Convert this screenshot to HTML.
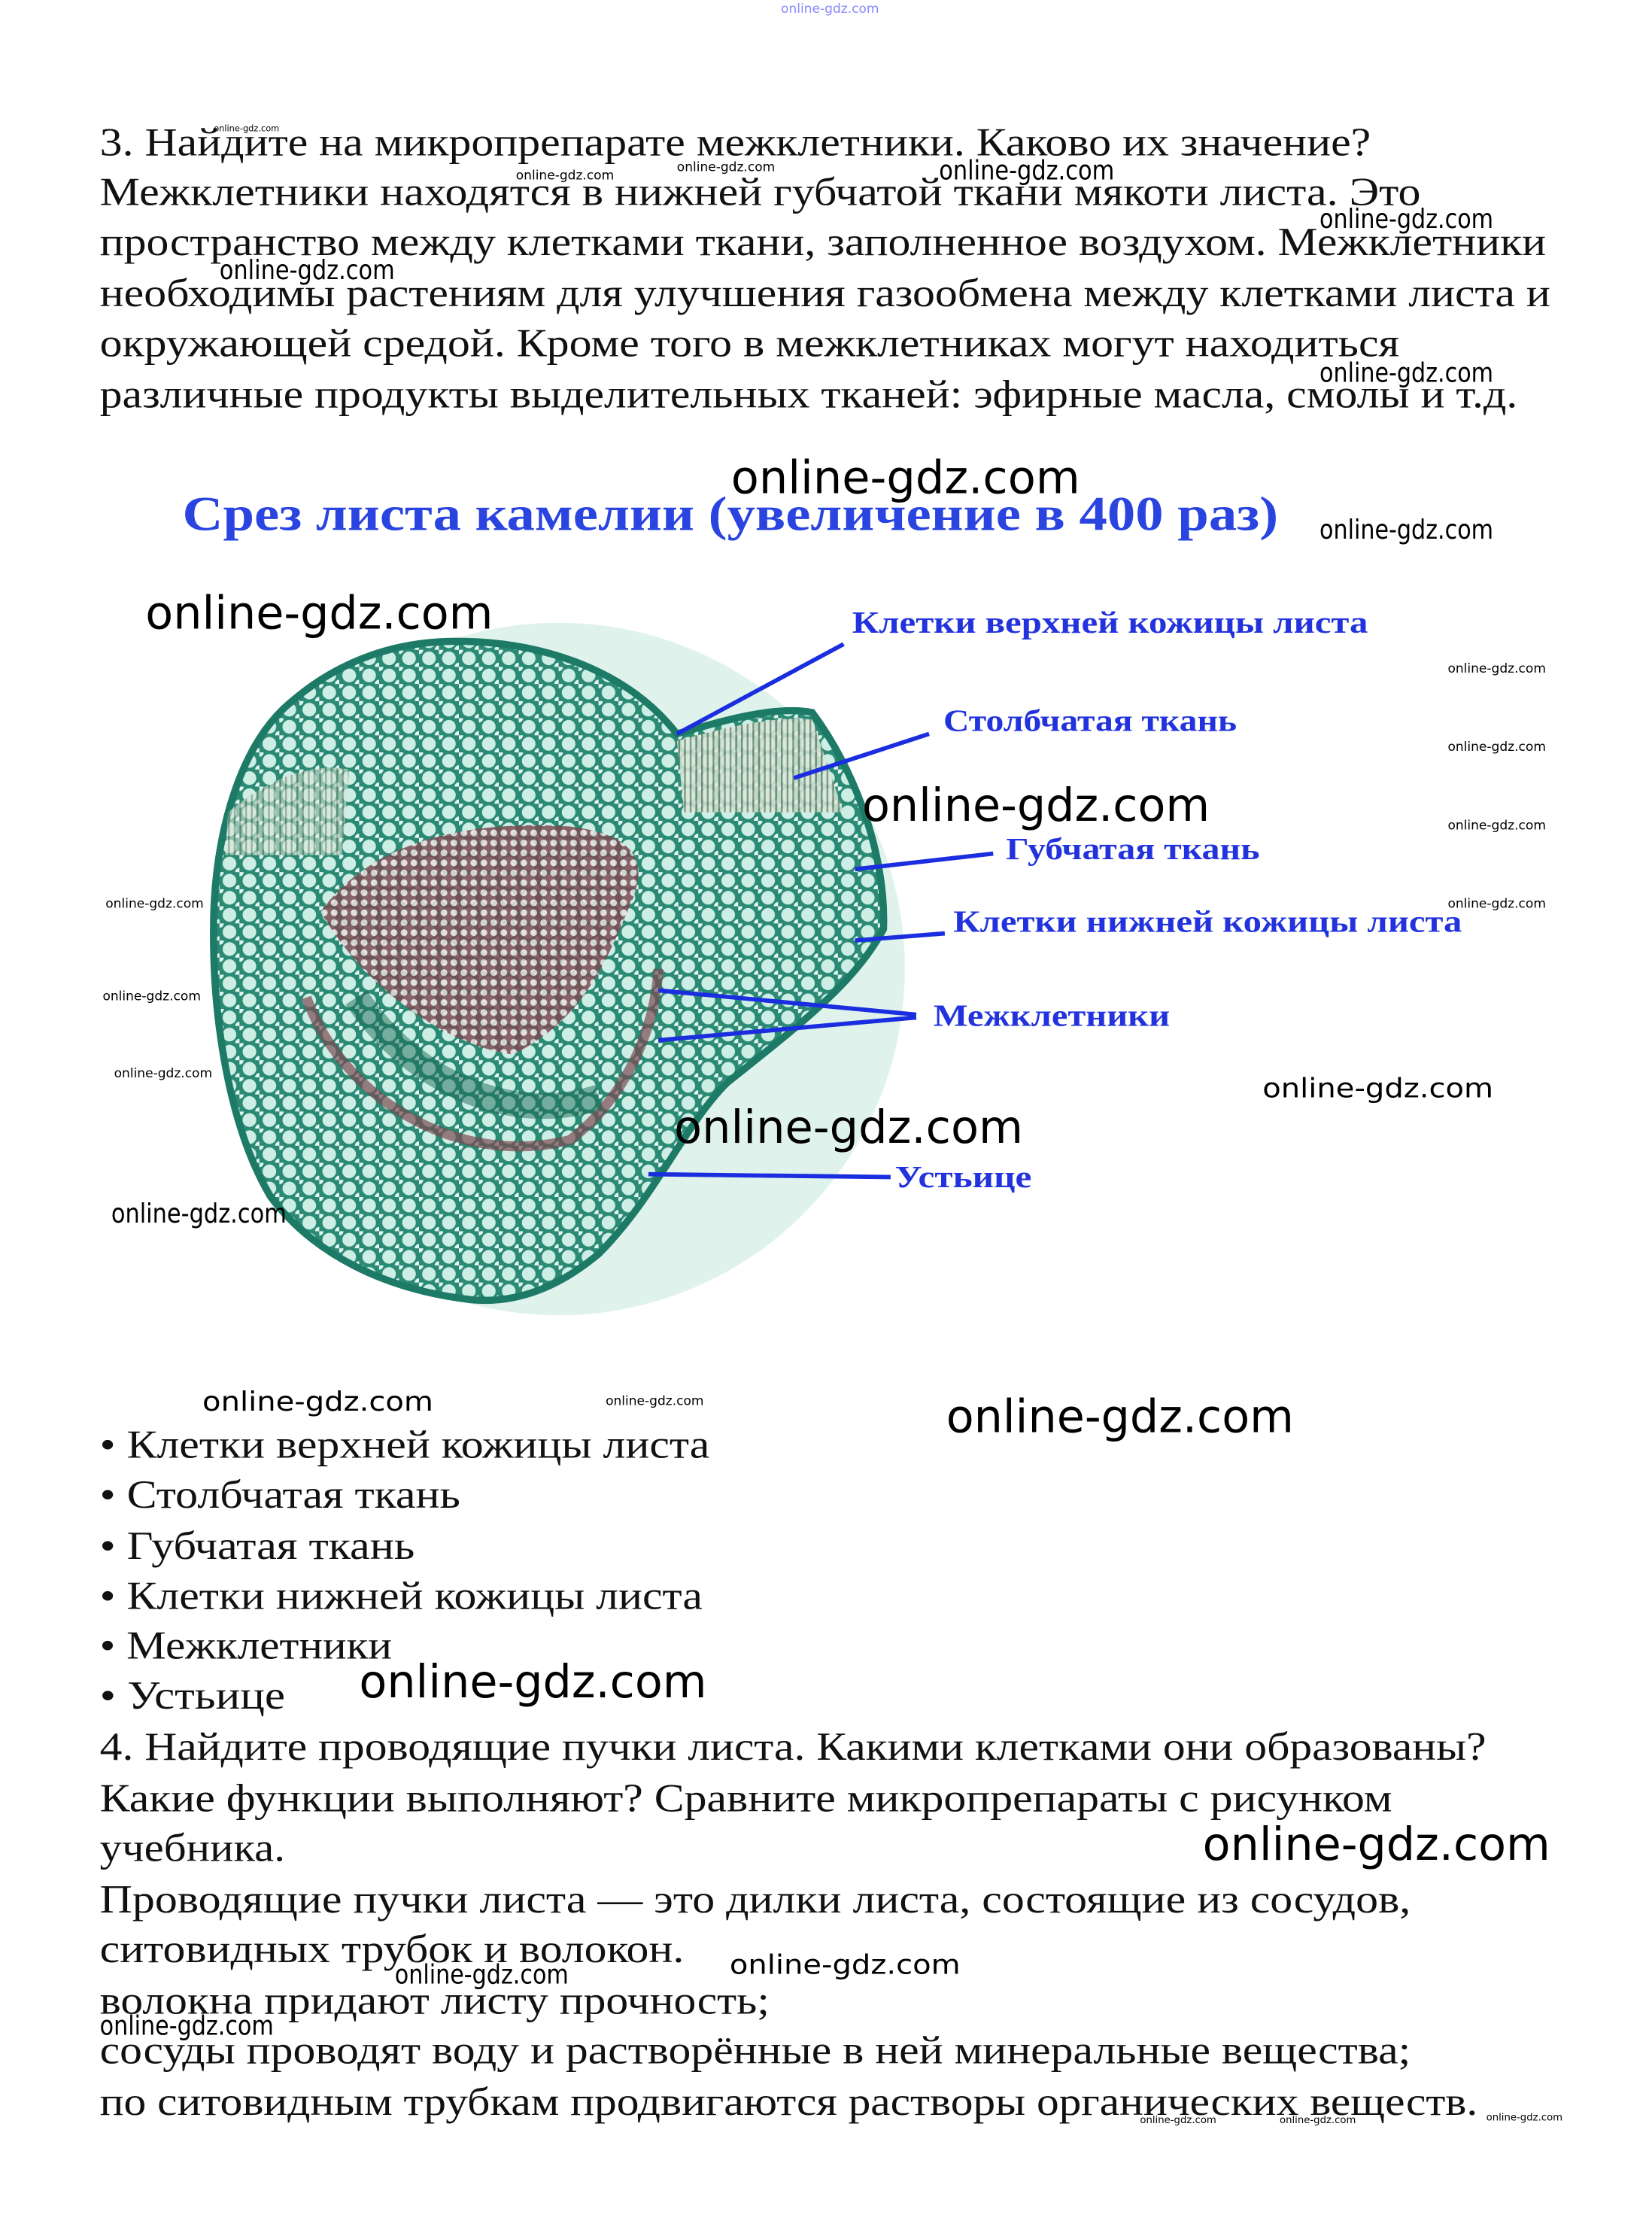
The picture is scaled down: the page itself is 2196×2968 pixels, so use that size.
<!DOCTYPE html>
<html><head><meta charset="utf-8"><style>
html,body{margin:0;padding:0;background:#fff;width:2196px;height:2968px;overflow:hidden}
svg{display:block}
.t{font-family:"Liberation Serif","Noto Serif CJK SC",serif;font-size:28px;fill:#111}
.w{font-family:"DejaVu Sans","Liberation Sans",sans-serif;fill:#000}
.b{font-family:"Liberation Serif","Noto Serif CJK SC",serif;font-weight:bold;fill:#2233dd}
</style></head><body>
<svg width="2196" height="2968" viewBox="0 0 1159.3 1567" xmlns="http://www.w3.org/2000/svg">
<defs>
<pattern id="cells" width="14" height="12" patternUnits="userSpaceOnUse">
<rect width="14" height="12" fill="#2a8a74"/>
<circle cx="7" cy="6" r="4.8" fill="#cdeee4"/>
<circle cx="0" cy="0" r="3" fill="#e4f6f0"/><circle cx="14" cy="12" r="3" fill="#e4f6f0"/>
</pattern>
<pattern id="small" width="7" height="7" patternUnits="userSpaceOnUse">
<rect width="7" height="7" fill="#7a4a52"/>
<circle cx="3.5" cy="3.5" r="2.4" fill="#e8e0e0"/>
</pattern>
<pattern id="pal" width="4" height="20" patternUnits="userSpaceOnUse">
<rect width="4" height="20" fill="#d8e8dc"/><rect width="1.3" height="20" fill="#7a8a70"/>
</pattern>
</defs>

<g class="t">
<text x="70" y="109" textLength="892" lengthAdjust="spacingAndGlyphs">3. Найдите на микропрепарате межклетники. Каково их значение?</text>
<text x="70" y="144" textLength="927" lengthAdjust="spacingAndGlyphs">Межклетники находятся в нижней губчатой ткани мякоти листа. Это</text>
<text x="70" y="179" textLength="1015" lengthAdjust="spacingAndGlyphs">пространство между клетками ткани, заполненное воздухом. Межклетники</text>
<text x="70" y="215" textLength="1018" lengthAdjust="spacingAndGlyphs">необходимы растениям для улучшения газообмена между клетками листа и</text>
<text x="70" y="250" textLength="912" lengthAdjust="spacingAndGlyphs">окружающей средой. Кроме того в межклетниках могут находиться</text>
<text x="70" y="286" textLength="995" lengthAdjust="spacingAndGlyphs">различные продукты выделительных тканей: эфирные масла, смолы и т.д.</text>

<text x="70" y="1023" textLength="428" lengthAdjust="spacingAndGlyphs">• Клетки верхней кожицы листа</text>
<text x="70" y="1058" textLength="253" lengthAdjust="spacingAndGlyphs">• Столбчатая ткань</text>
<text x="70" y="1094" textLength="221" lengthAdjust="spacingAndGlyphs">• Губчатая ткань</text>
<text x="70" y="1129" textLength="423" lengthAdjust="spacingAndGlyphs">• Клетки нижней кожицы листа</text>
<text x="70" y="1164" textLength="205" lengthAdjust="spacingAndGlyphs">• Межклетники</text>
<text x="70" y="1199" textLength="130" lengthAdjust="spacingAndGlyphs">• Устьице</text>
<text x="70" y="1235" textLength="973" lengthAdjust="spacingAndGlyphs">4. Найдите проводящие пучки листа. Какими клетками они образованы?</text>
<text x="70" y="1271" textLength="907" lengthAdjust="spacingAndGlyphs">Какие функции выполняют? Сравните микропрепараты с рисунком</text>
<text x="70" y="1306" textLength="130" lengthAdjust="spacingAndGlyphs">учебника.</text>
<text x="70" y="1342" textLength="920" lengthAdjust="spacingAndGlyphs">Проводящие пучки листа — это дилки листа, состоящие из сосудов,</text>
<text x="70" y="1377" textLength="410" lengthAdjust="spacingAndGlyphs">ситовидных трубок и волокон.</text>
<text x="70" y="1413" textLength="470" lengthAdjust="spacingAndGlyphs">волокна придают листу прочность;</text>
<text x="70" y="1448" textLength="920" lengthAdjust="spacingAndGlyphs">сосуды проводят воду и растворённые в ней минеральные вещества;</text>
<text x="70" y="1484" textLength="967" lengthAdjust="spacingAndGlyphs">по ситовидным трубкам продвигаются растворы органических веществ.</text>
</g>

<text class="b" x="128" y="372" font-size="34" textLength="769" lengthAdjust="spacingAndGlyphs" style="fill:#2a44e0">Срез листа камелии (увеличение в 400 раз)</text>

<!-- leaf -->
<circle cx="392" cy="680" r="243" fill="#dff3ec"/>
<path d="M150,640 C152,580 170,520 205,492 C240,462 280,450 320,450 C380,450 440,470 475,515 C510,505 545,495 570,500 C600,540 622,600 620,652 C600,690 560,720 510,760 C480,790 460,840 420,880 C390,905 360,915 330,912 C270,905 220,880 190,840 C160,790 148,710 150,640 Z" fill="url(#cells)" stroke="#1d7a66" stroke-width="5"/>
<path d="M475,520 C510,510 545,502 570,505 L592,570 L480,570 Z" fill="url(#pal)" opacity="0.85"/>
<path d="M160,570 C190,545 220,535 245,540 L240,600 L158,600 Z" fill="url(#pal)" opacity="0.6"/>
<path d="M225,640 C260,590 330,575 400,580 C440,585 460,600 440,640 C420,690 400,720 360,740 C320,735 260,700 225,640 Z" fill="url(#small)" opacity="0.85"/>
<path d="M215,700 C240,770 320,820 400,800 C440,770 460,720 462,680" fill="none" stroke="#7a4a52" stroke-width="7" opacity="0.7"/>
<path d="M250,700 C290,760 360,790 420,770" fill="none" stroke="#1b6a55" stroke-width="18" opacity="0.5"/>

<!-- connectors -->
<g stroke="#1a2ee0" stroke-width="3" fill="none">
<line x1="592" y1="452" x2="475" y2="515"/>
<line x1="652" y1="515" x2="557" y2="546"/>
<line x1="697" y1="599" x2="600" y2="610"/>
<line x1="663" y1="655" x2="600" y2="660"/>
<line x1="643" y1="712" x2="462" y2="695"/>
<line x1="643" y1="714" x2="462" y2="730"/>
<line x1="625" y1="826" x2="455" y2="824"/>
</g>
<g class="b" font-size="22">
<text x="598" y="444" textLength="362" lengthAdjust="spacingAndGlyphs">Клетки верхней кожицы листа</text>
<text x="662" y="513" textLength="206" lengthAdjust="spacingAndGlyphs">Столбчатая ткань</text>
<text x="706" y="603" textLength="178" lengthAdjust="spacingAndGlyphs">Губчатая ткань</text>
<text x="669" y="654" textLength="357" lengthAdjust="spacingAndGlyphs">Клетки нижней кожицы листа</text>
<text x="655" y="720" textLength="166" lengthAdjust="spacingAndGlyphs">Межклетники</text>
<text x="628" y="833" textLength="96" lengthAdjust="spacingAndGlyphs">Устьице</text>
</g>

<!-- watermarks -->
<g class="w" font-size="32">
<text x="513" y="346" textLength="245" lengthAdjust="spacingAndGlyphs">online-gdz.com</text>
<text x="102" y="441" textLength="244" lengthAdjust="spacingAndGlyphs">online-gdz.com</text>
<text x="605" y="576" textLength="244" lengthAdjust="spacingAndGlyphs">online-gdz.com</text>
<text x="473" y="802" textLength="245" lengthAdjust="spacingAndGlyphs">online-gdz.com</text>
<text x="664" y="1005" textLength="244" lengthAdjust="spacingAndGlyphs">online-gdz.com</text>
<text x="252" y="1191" textLength="244" lengthAdjust="spacingAndGlyphs">online-gdz.com</text>
<text x="844" y="1305" textLength="244" lengthAdjust="spacingAndGlyphs">online-gdz.com</text>
</g>
<g class="w" font-size="19">
<text x="926" y="378" textLength="122" lengthAdjust="spacingAndGlyphs">online-gdz.com</text>
<text x="886" y="770" textLength="162" lengthAdjust="spacingAndGlyphs">online-gdz.com</text>
<text x="78" y="858" textLength="123" lengthAdjust="spacingAndGlyphs">online-gdz.com</text>
<text x="142" y="990" textLength="162" lengthAdjust="spacingAndGlyphs">online-gdz.com</text>
<text x="512" y="1385" textLength="162" lengthAdjust="spacingAndGlyphs">online-gdz.com</text>
<text x="926" y="160" textLength="122" lengthAdjust="spacingAndGlyphs">online-gdz.com</text>
<text x="926" y="268" textLength="122" lengthAdjust="spacingAndGlyphs">online-gdz.com</text>
<text x="659" y="126" textLength="123" lengthAdjust="spacingAndGlyphs">online-gdz.com</text>
<text x="154" y="196" textLength="123" lengthAdjust="spacingAndGlyphs">online-gdz.com</text>
<text x="277" y="1392" textLength="122" lengthAdjust="spacingAndGlyphs">online-gdz.com</text>
<text x="70" y="1428" textLength="122" lengthAdjust="spacingAndGlyphs">online-gdz.com</text>
</g>
<g class="w" font-size="9">
<text x="1016" y="472">online-gdz.com</text>
<text x="1016" y="527">online-gdz.com</text>
<text x="1016" y="582">online-gdz.com</text>
<text x="1016" y="637">online-gdz.com</text>
<text x="74" y="637">online-gdz.com</text>
<text x="72" y="702">online-gdz.com</text>
<text x="80" y="756">online-gdz.com</text>
<text x="425" y="986">online-gdz.com</text>
<text x="362" y="126">online-gdz.com</text>
<text x="475" y="120">online-gdz.com</text>
<text x="150" y="92" font-size="6">online-gdz.com</text>
<text x="1043" y="1488" font-size="7">online-gdz.com</text>
<text x="800" y="1490" font-size="7">online-gdz.com</text>
<text x="898" y="1490" font-size="7">online-gdz.com</text>
<text x="548" y="9" font-size="9" style="fill:#8888ff">online-gdz.com</text>
</g>
</svg>
</body></html>
